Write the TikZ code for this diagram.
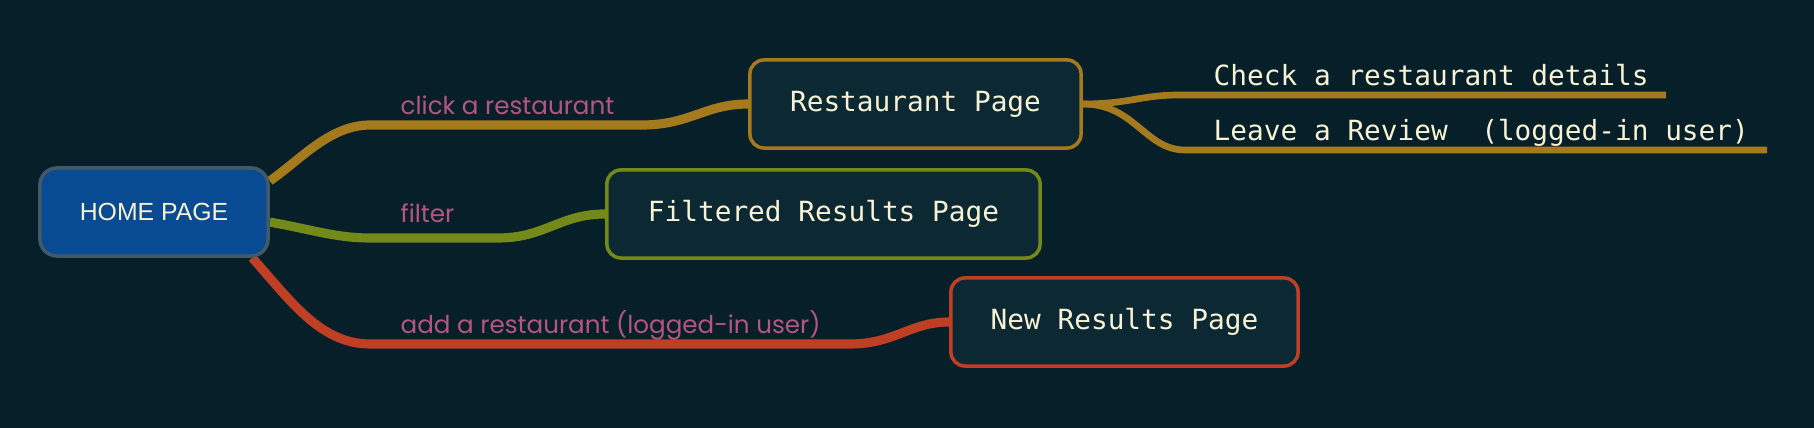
\documentclass[tikz,border=0pt]{standalone}
\usepackage{fontspec}
\usetikzlibrary{backgrounds}
\setmainfont{Liberation Sans}
\setmonofont{DejaVu Sans Mono}
\newfontfamily\edgefont{Poppins}
\definecolor{bgcol}{HTML}{071F29}
\definecolor{boxcol}{HTML}{0C2833}
\definecolor{goldcol}{HTML}{A57A1C}
\definecolor{greencol}{HTML}{738A1A}
\definecolor{redcol}{HTML}{BF3F25}
\definecolor{pinkcol}{HTML}{B55582}
\definecolor{creamcol}{HTML}{F7F2D4}
\definecolor{homecol}{HTML}{084B92}
\definecolor{homeline}{HTML}{405A6A}
\begin{document}
\begin{tikzpicture}[x=0.01cm, y=-0.01cm, line cap=round,
		homebox/.style={draw=homeline, fill=homecol, line width=1pt, rounded corners=0.17cm, minimum width=2.28cm, minimum height=0.88cm, inner sep=0pt, text=creamcol, font=\fontsize{7.05}{8}\selectfont},
		pagebox/.style={draw=#1, fill=boxcol, line width=1pt, rounded corners=0.14cm, minimum height=0.88cm, inner sep=0pt, text=creamcol, font=\ttfamily\fontsize{7.9}{9}\selectfont},
		edgelabel/.style={anchor=base west, inner sep=0pt, text=pinkcol, font=\edgefont\fontsize{7}{8}\selectfont},
		leaflabel/.style={anchor=base west, inner sep=0pt, text=creamcol, font=\ttfamily\fontsize{7.9}{9}\selectfont},
		branch/.style={draw=#1, line width=2.6pt},
		twig/.style={draw=#1, line width=1.9pt}]
			\useasboundingbox (0,0) rectangle (1814,428);
			\node (home) at (154,212) [homebox] {HOME PAGE};
			\node (resto) at (915.5,104) [pagebox=goldcol, minimum width=3.31cm] {Restaurant Page};
			\node (filt) at (823.5,214) [pagebox=greencol, minimum width=4.33cm] {Filtered Results Page};
			\node (newres) at (1124.5,322) [pagebox=redcol, minimum width=3.47cm] {New Results Page};
			\coordinate (check) at (1666,95);
			\coordinate (review) at (1767,150);
			\node (lclick) at (400,115) [edgelabel] {click a restaurant};
			\node (lfilter) at (400,223) [edgelabel] {filter};
			\node (ladd) at (400,334) [edgelabel] {add a restaurant (logged-in user)};
			\node (lcheck) at (1213,86) [leaflabel] {Check a restaurant details};
			\node (lreview) at (1213,141) [leaflabel] {Leave a Review\ \ (logged-in user)};
			\begin{pgfonlayer}{background}
				\fill[bgcol] (0,0) rectangle (1814,428);
				\draw[branch=goldcol] (home.15) .. controls (300,160) and (330,125) .. (370,125) -- (642,125) .. controls (690,125) and (705,104) .. (resto.west);
				\draw[branch=greencol] (home.-5) .. controls (310,229) and (335,238) .. (370,238) -- (498,238) .. controls (545,238) and (560,214) .. (filt.west);
				\draw[branch=redcol] (home.-25) .. controls (290,300) and (320,344) .. (370,344) -- (850,344) .. controls (895,344) and (910,322) .. (newres.west);
				\draw[twig=goldcol] (resto.east) .. controls (1130,104) and (1140,95) .. (1180,95) -- (check);
				\draw[twig=goldcol] (resto.east) .. controls (1135,104) and (1145,150) .. (1185,150) -- (review);
			\end{pgfonlayer}
		\end{tikzpicture}
\end{document}
